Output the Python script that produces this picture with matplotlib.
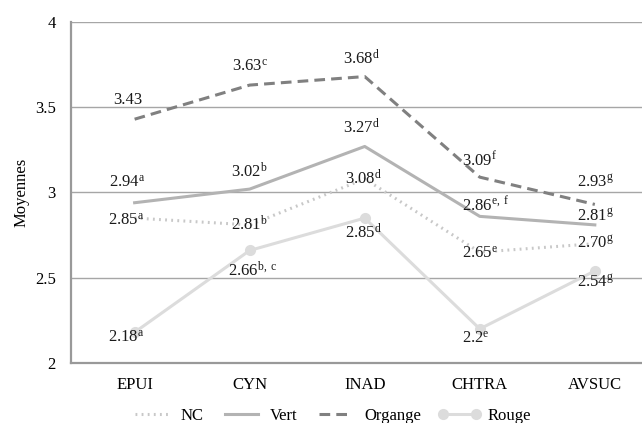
import matplotlib
matplotlib.use("Agg")
import matplotlib.pyplot as plt

plt.rcParams['font.family'] = ['Liberation Serif', 'DejaVu Serif']
plt.rcParams['mathtext.fontset'] = 'custom'
plt.rcParams['mathtext.rm'] = 'Liberation Serif'
plt.rcParams['mathtext.it'] = 'Liberation Serif:italic'

categories = ["EPUI", "CYN", "INAD", "CHTRA", "AVSUC"]
series_names = ["NC", "Vert", "Organge", "Rouge"]
nc = [2.85, 2.81, 3.08, 2.65, 2.70]
vert = [2.94, 3.02, 3.27, 2.86, 2.81]
organge = [3.43, 3.63, 3.68, 3.09, 2.93]
rouge = [2.18, 2.66, 2.85, 2.2, 2.54]
nc_text = ["2.85", "2.81", "3.08", "2.65", "2.70"]
vert_text = ["2.94", "3.02", "3.27", "2.86", "2.81"]
organge_text = ["3.43", "3.63", "3.68", "3.09", "2.93"]
rouge_text = ["2.18", "2.66", "2.85", "2.2", "2.54"]
nc_sup = ["a", "b", "d", "e", "g"]
vert_sup = ["a", "b", "d", "e, f", "g"]
organge_sup = ["", "c", "d", "f", "g"]
rouge_sup = ["a", "b, c", "d", "e", "g"]
yticks = [2, 2.5, 3, 3.5, 4]
ytick_labels = ["2", "2.5", "3", "3.5", "4"]

fig = plt.figure(figsize=(6.42, 4.23), dpi=100)
ax = fig.add_axes([71/642, 1-363/423, 1-71/642, (363-22)/423])

x = list(range(len(categories)))
ax.plot(x, nc, color='#c8c8c8', lw=2.2, ls=(0, (0.6, 1.4)), label="NC", zorder=3)
ax.plot(x, vert, color='#b3b3b3', lw=2.2, ls='-', label="Vert", zorder=3)
ax.plot(x, organge, color='#808080', lw=2.2, ls=(0, (3.5, 2)), label="Organge", zorder=3)
ax.plot(x, rouge, color='#dcdcdc', lw=2.2, ls='-', marker='o', ms=7, label="Rouge", zorder=3)

ax.set_xlim(-0.553, 4.41)
ax.set_ylim(2, 4)
ax.set_yticks(yticks)
ax.set_yticklabels(ytick_labels, fontsize=12)
ax.set_xticks(x)
ax.set_xticklabels(categories, fontsize=12)
ax.tick_params(axis='both', length=0)
ax.tick_params(axis='y', pad=11)
ax.tick_params(axis='x', pad=10)
ax.grid(axis='y', color='#a6a6a6', lw=1)
ax.set_axisbelow(True)
for s in ['top', 'right']:
    ax.spines[s].set_visible(False)
for s in ['left', 'bottom']:
    ax.spines[s].set_color('#999999')
    ax.spines[s].set_linewidth(1.6)
ax.set_ylabel("Moyennes", fontsize=12)
ax.yaxis.set_label_coords(-0.072, 0.5)

def lab(t, s):
    if s:
        return t + r"$^{\mathrm{" + s.replace(" ", r"\ ") + "}}$"
    return t

px = 0.72
offsets = {
    "NC": [(-8, -3), (0, 0), (-1, 0), (0, -1), (1, 0)],
    "Vert": [(-7, 20), (0, 17), (-3, 19), (6, 11), (1, 8)],
    "Organge": [(-7, 19), (0, 18), (-3, 18), (0, 17), (1, 22)],
    "Rouge": [(-8, -5), (3, -20), (-1, -15), (-4, -10), (1, -12)],
}
data = {"NC": (nc, nc_text, nc_sup), "Vert": (vert, vert_text, vert_sup),
        "Organge": (organge, organge_text, organge_sup), "Rouge": (rouge, rouge_text, rouge_sup)}
for name in series_names:
    vals, txts, sups = data[name]
    for i, (v, t, s) in enumerate(zip(vals, txts, sups)):
        dx, dy = offsets[name][i]
        ax.annotate(lab(t, s), (i, v), xytext=(dx*px, dy*px), textcoords='offset points',
                    ha='center', va='center', fontsize=12, color='#1a1a1a', zorder=5)

fig.legend(loc='center', bbox_to_anchor=(0.515, 0.016), ncol=4, frameon=False,
           fontsize=12, handlelength=2.6, columnspacing=1.0, handletextpad=0.4, numpoints=2)

fig.savefig("out.png", dpi=100)
